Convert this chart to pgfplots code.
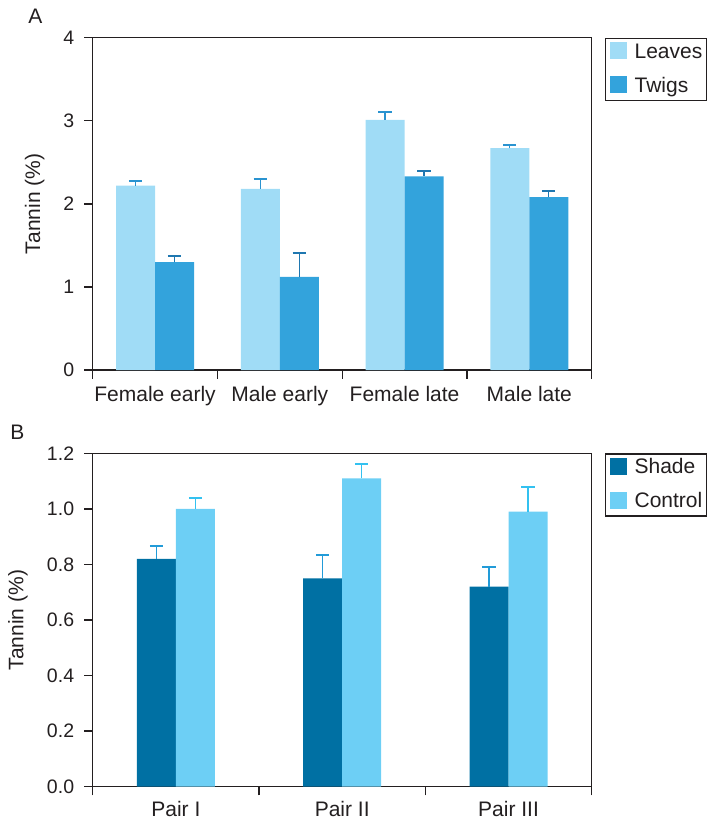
\documentclass[border=0pt]{standalone}
\usepackage{fontspec}
\setmainfont{Liberation Sans}
\usepackage{pgfplots}
\pgfplotsset{compat=1.18}
\definecolor{leaves}{HTML}{A0DCF6}
\definecolor{twigs}{HTML}{33A3DC}
\definecolor{shade}{HTML}{0070A3}
\definecolor{control}{HTML}{6DCFF5}
\definecolor{leaveserr}{HTML}{2A93D0}
\definecolor{twigserr}{HTML}{1F77B0}
\definecolor{shadeerr}{HTML}{229BD8}
\definecolor{controlerr}{HTML}{33C1F0}
\definecolor{axisgray}{HTML}{231F20}
\pgfplotstableread{
x y e
0 2.22 0.05
1 2.18 0.12
2 3.01 0.10
3 2.67 0.04
}\leavesdata
\pgfplotstableread{
x y e
0 1.30 0.075
1 1.12 0.29
2 2.33 0.06
3 2.08 0.08
}\twigsdata
\pgfplotstableread{
x y e
0 0.82 0.045
1 0.75 0.085
2 0.72 0.07
}\shadedata
\pgfplotstableread{
x y e
0 1.00 0.04
1 1.11 0.05
2 0.99 0.09
}\controldata
\begin{document}
\begin{tikzpicture}
\useasboundingbox (0pt,0pt) rectangle (353.5pt,-410.5pt);
\pgfplotsset{
  common/.style={
    scale only axis,
    width=249.5pt,
    anchor=south west,
    clip=false,
    ybar=0pt,
    bar width=19.5pt,
    ymin=0,
    axis line style={axisgray, line width=0.7pt},
    every tick/.style={axisgray, line width=0.7pt},
    tick align=outside,
    xtick pos=lower,
    ytick pos=left,
    major x tick style={draw=none},
    minor tick length=4.3pt,
    major tick length=4.3pt,
    /pgf/number format/assume math mode=true,
    ticklabel style={text=axisgray},
    yticklabel style={font=\fontsize{9.75}{11}\selectfont, inner xsep=4.8pt},
    ylabel style={font=\fontsize{10.5}{12}\selectfont, text=axisgray},
    ylabel={Tannin (\%)},
    error bars/y dir=plus,
    error bars/y explicit,
    legend style={
      at={(1.0267,1)}, anchor=north west,
      draw=axisgray, line width=0.6pt,
      font=\fontsize{10.5}{12.5}\selectfont,
      text=axisgray,
      inner xsep=2pt, inner ysep=2pt,
      row sep=7pt,
      nodes={inner sep=0pt, text height=0.75em, text depth=0.21em},
      /tikz/every even column/.append style={column sep=0pt},
      /tikz/every odd column/.append style={column sep=4pt},
    },
    legend cell align=left,
    legend image code/.code={\fill[##1] (0pt,-3.3pt) rectangle (8.5pt,5.2pt);},
  },
}
\begin{axis}[common,
  at={(46.35pt,-185pt)},
  height=166.15pt,
  ymax=4,
  xmin=-0.5, xmax=3.5,
  ytick={0,1,2,3,4},
  xtick={0,1,2,3},
  xticklabels={Female early, Male early, Female late, Male late},
  xticklabel style={font=\fontsize{10.5}{12}\selectfont, yshift=-0.3pt},
  minor xtick={-0.5,0.5,1.5,2.5,3.5},
  ylabel style={at={(rel axis cs:-0.1161,0.5)}, anchor=center},
]
\addplot[fill=leaves, draw=none,
  error bars/error bar style={leaveserr, line width=0.65pt},
  error bars/error mark options={rotate=90, mark size=3.3pt, line width=1pt, leaveserr}]
  table[x=x, y=y, y error=e] {\leavesdata};
\addplot[fill=twigs, draw=none,
  error bars/error bar style={twigserr, line width=0.65pt},
  error bars/error mark options={rotate=90, mark size=3.3pt, line width=1pt, twigserr}]
  table[x=x, y=y, y error=e] {\twigsdata};
\legend{Leaves, Twigs}
\node[anchor=base west, inner sep=0pt, font=\fontsize{10.5}{12}\selectfont, text=axisgray] at (rel axis cs:-0.1297,1.0433) {A};
\end{axis}
\begin{axis}[common,
  at={(46.35pt,-393.35pt)},
  height=166.67pt,
  ymax=1.2,
  xmin=-0.5, xmax=2.5,
  ytick={0,0.2,0.4,0.6,0.8,1.0,1.2},
  yticklabel style={/pgf/number format/.cd, fixed, fixed zerofill, precision=1},
  xtick={0,1,2},
  xticklabels={Pair I, Pair II, Pair III},
  xticklabel style={font=\fontsize{10.5}{12}\selectfont, yshift=0.7pt},
  minor xtick={-0.5,0.5,1.5,2.5},
  ylabel style={at={(rel axis cs:-0.1497,0.5)}, anchor=center},
]
\addplot[fill=shade, draw=none,
  error bars/error bar style={shadeerr, line width=0.65pt},
  error bars/error mark options={rotate=90, mark size=3.3pt, line width=1pt, shadeerr}]
  table[x=x, y=y, y error=e] {\shadedata};
\addplot[fill=control, draw=none,
  error bars/error bar style={controlerr, line width=0.65pt},
  error bars/error mark options={rotate=90, mark size=3.3pt, line width=1pt, controlerr}]
  table[x=x, y=y, y error=e] {\controldata};
\legend{Shade, Control}
\node[anchor=base west, inner sep=0pt, font=\fontsize{10.5}{12}\selectfont, text=axisgray] at (rel axis cs:-0.1657,1.0429) {B};
\end{axis}
\end{tikzpicture}
\end{document}
